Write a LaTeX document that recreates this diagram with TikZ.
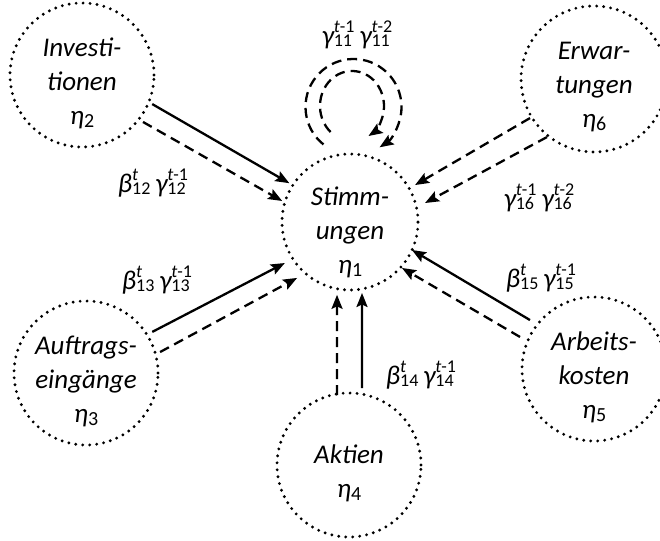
\documentclass[tikz,border=0pt]{standalone}
\usepackage{fontspec}
\setmainfont{Carlito}
\usetikzlibrary{arrows.meta,calc}
\newsavebox\ssA
\newsavebox\ssB
\newlength\ssW
\newcommand\ssc[2]{%
  \sbox\ssA{\fontsize{18}{18}\selectfont\upshape #1}%
  \sbox\ssB{\fontsize{18}{18}\selectfont\upshape #2}%
  \ifdim\wd\ssA>\wd\ssB \setlength\ssW{\wd\ssA}\else\setlength\ssW{\wd\ssB}\fi
  \makebox[\ssW][l]{\rlap{\raisebox{12pt}{\usebox\ssA}}\raisebox{-2pt}{\usebox\ssB}}}
\newcommand\etaN[1]{η\raisebox{-3pt}{\fontsize{20}{20}\selectfont\upshape #1}}
\begin{document}
\begin{tikzpicture}[x=1pt,y=1pt,
  var/.style={circle, draw, line width=3.2pt, dash pattern=on 0pt off 7pt, line cap=round,
    minimum size=144pt, inner sep=0pt},
  txt/.style={align=center, inner sep=0pt, font=\fontsize{27}{34}\selectfont\itshape, yshift=-8pt},
  lab/.style={anchor=base, inner sep=0pt, font=\fontsize{27}{30}\selectfont\itshape},
  conn/.style={line width=2.3pt, -{Stealth[length=14pt,width=11pt,inset=2.5pt]}},
  dashconn/.style={conn, dash pattern=on 10pt off 6pt}]
\useasboundingbox (0,0) rectangle (660,540);

\node[var, minimum size=136pt, label={[txt, yshift=-2pt]center:Stimm-\\ungen\\\etaN{1}}] (n1) at (350,318) {};
\node[var, label={[txt]center:Investi-\\tionen\\\etaN{2}}] (n2) at (82,465) {};
\node[var, label={[txt]center:Auftrags-\\eingänge\\\etaN{3}}] (n3) at (86,167) {};
\node[var, label={[txt]center:Aktien\\\etaN{4}}] (n4) at (349,75) {};
\node[var, label={[txt]center:Arbeits-\\kosten\\\etaN{5}}] (n5) at (594,171) {};
\node[var, minimum size=146pt, label={[txt]center:Erwar-\\tungen\\\etaN{6}}] (n6) at (594,461) {};

% eta2 -> eta1
\draw[conn] ($(n2)+(-22.5:76)$) -- ($(n1)+(147.4:72)$);
\draw[dashconn] ($(n2)+(-37.6:77)$) -- ($(n1)+(162.8:71)$);
% eta3 -> eta1
\draw[conn] ($(n3)+(31.8:78)$) -- ($(n1)+(212.2:77)$);
\draw[dashconn] ($(n3)+(15.8:77)$) -- ($(n1)+(226.6:77)$);
% eta4 -> eta1
\draw[dashconn] ($(n4)+(99.7:71)$) -- ($(n1)+(259.9:74)$);
\draw[conn] ($(n4)+(80.4:78)$) -- ($(n1)+(279.6:72)$);
% eta5 -> eta1
\draw[conn] ($(n5)+(142.6:80.6)$) -- ($(n1)+(-24.3:68)$);
\draw[dashconn] ($(n5)+(156.6:80.6)$) -- ($(n1)+(-41.5:69.4)$);
% eta6 -> eta1
\draw[dashconn] ($(n6)+(211.4:75)$) -- ($(n1)+(29.6:74.8)$);
\draw[dashconn] ($(n6)+(231:74.7)$) -- ($(n1)+(14.2:77.4)$);
% self loops
\coordinate (lo) at (353.5,433);
\coordinate (li) at (352,434);
\draw[dashconn] ($(lo)+(231.3:48)$) arc[start angle=231.3, end angle=-57.1, radius=48];
\draw[dashconn] ($(li)+(228:32 and 35)$) arc[start angle=228, end angle=-59, x radius=32, y radius=35];

% labels
\node[lab] (g11) at (357,495) {γ\ssc{{\itshape t}-1}{11}\hspace{5pt}γ\ssc{{\itshape t}-2}{11}};
\node[lab] (g12) at (153,347) {β\ssc{{\itshape t}}{12}\hspace{5pt}γ\ssc{{\itshape t}-1}{12}};
\node[lab] (g13) at (157,250) {β\ssc{{\itshape t}}{13}\hspace{5pt}γ\ssc{{\itshape t}-1}{13}};
\node[lab] (g14) at (421,155) {β\ssc{{\itshape t}}{14}\hspace{5pt}γ\ssc{{\itshape t}-1}{14}};
\node[lab] (g15) at (541,252) {β\ssc{{\itshape t}}{15}\hspace{5pt}γ\ssc{{\itshape t}-1}{15}};
\node[lab] (g16) at (539,332) {γ\ssc{{\itshape t}-1}{16}\hspace{5pt}γ\ssc{{\itshape t}-2}{16}};
\end{tikzpicture}
\end{document}
